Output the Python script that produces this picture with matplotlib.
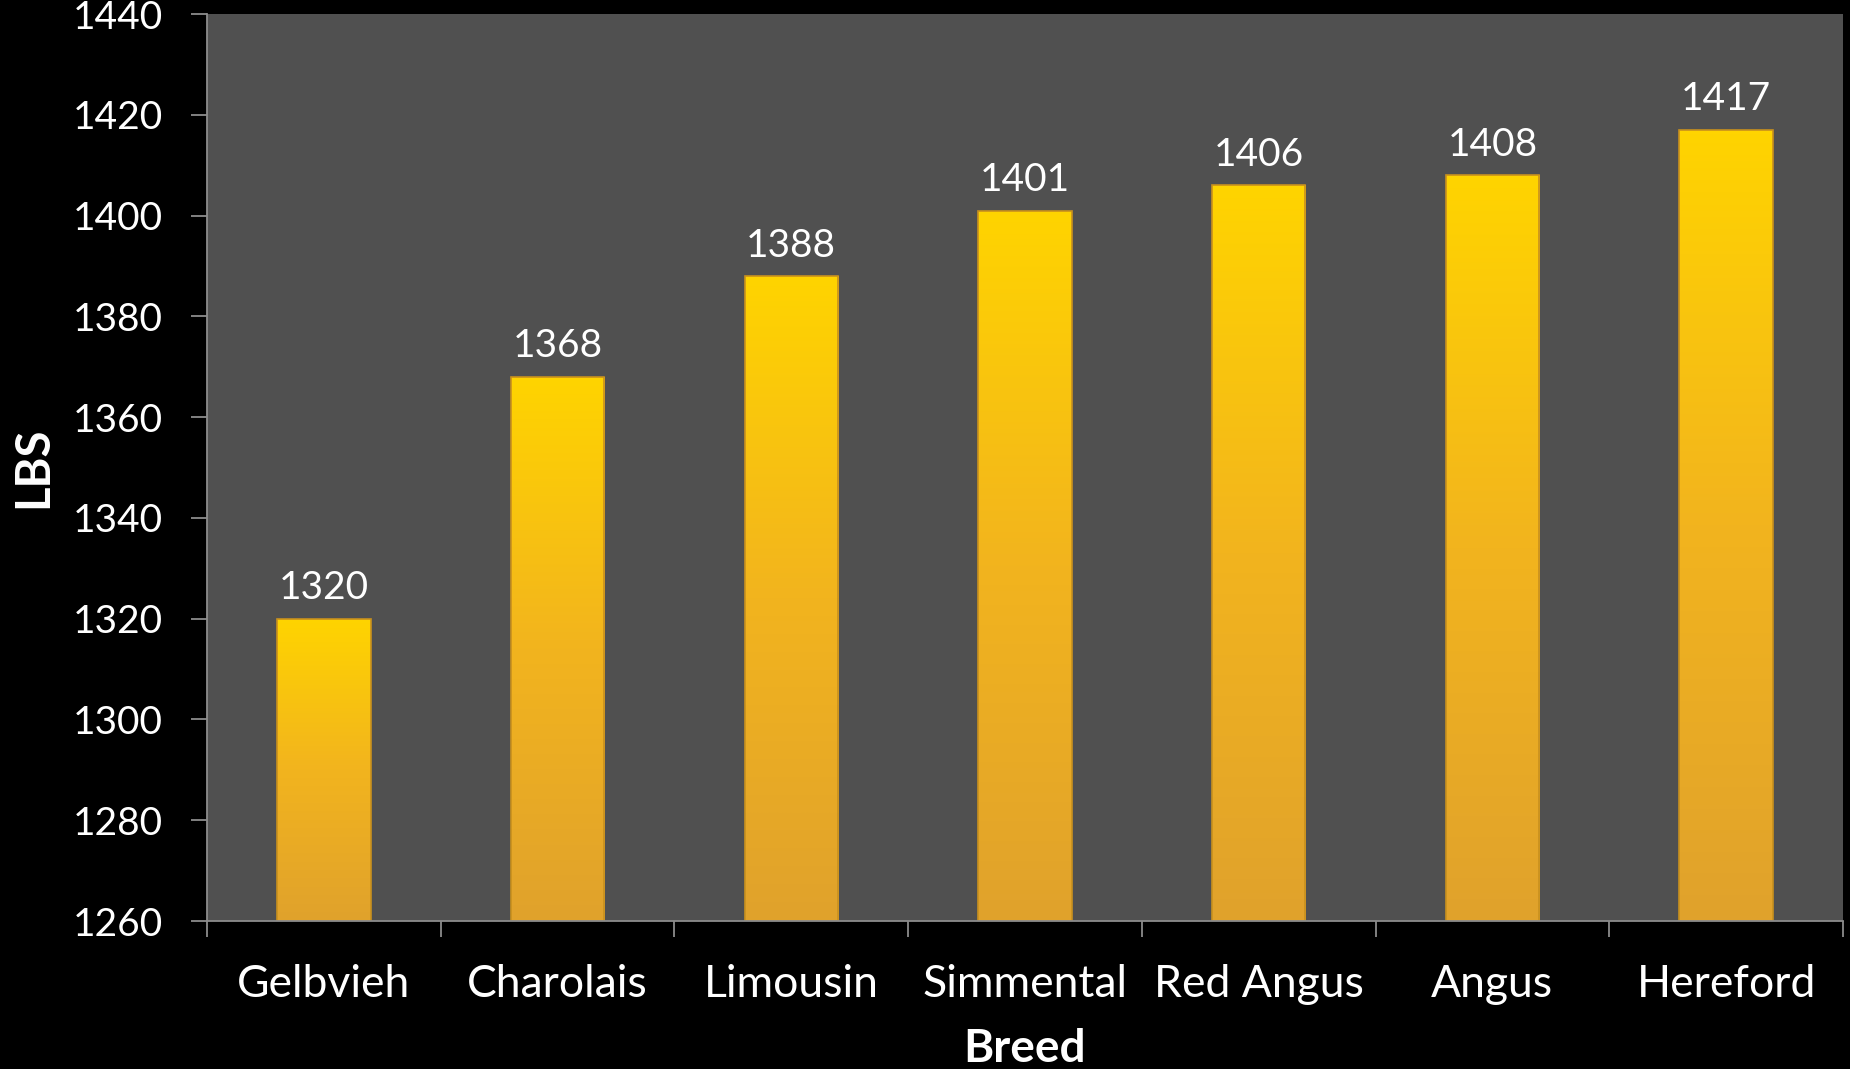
import numpy as np
import matplotlib
matplotlib.use("Agg")
import matplotlib.pyplot as plt
from matplotlib.colors import LinearSegmentedColormap

breeds = ["Gelbvieh", "Charolais", "Limousin", "Simmental", "Red Angus", "Angus", "Hereford"]
weights = [1320, 1368, 1388, 1401, 1406, 1408, 1417]
y_ticks = [1260, 1280, 1300, 1320, 1340, 1360, 1380, 1400, 1420, 1440]

plt.rcParams["font.family"] = ["Lato", "DejaVu Sans"]

fig = plt.figure(figsize=(18.5, 10.69), dpi=100, facecolor="black")
ax = fig.add_axes([0.1119, 0.1384, 0.8843, 0.8485])
ax.set_facecolor("#505050")

x = np.arange(len(breeds))
width = 0.40
y0 = y_ticks[0]

ax.set_xlim(-0.5, len(breeds) - 0.5)
ax.set_ylim(y_ticks[0], y_ticks[-1])

# vertical gold gradient: bright yellow at the top, warm amber at the base
cmap = LinearSegmentedColormap.from_list("gold", ["#E0A22C", "#F2B41E", "#FFD400"])
grad = np.linspace(0, 1, 256).reshape(-1, 1)

bars = ax.bar(x, [w - y0 for w in weights], width=width, bottom=y0,
              facecolor="none", edgecolor="#C8901E", linewidth=1.2, zorder=3)
for rect, w in zip(bars, weights):
    x0 = rect.get_x()
    im = ax.imshow(grad, cmap=cmap, origin="lower", aspect="auto",
                   extent=(x0, x0 + rect.get_width(), y0, w), zorder=2,
                   interpolation="bicubic")
    im.set_clip_path(rect)
    ax.annotate(f"{w}", xy=(rect.get_x() + rect.get_width() / 2, w),
                xytext=(0, 14), textcoords="offset points",
                ha="center", va="baseline", color="white", fontsize=28)

for s in ["top", "right"]:
    ax.spines[s].set_visible(False)
for s in ["left", "bottom"]:
    ax.spines[s].set_color("#8C8C8C")
    ax.spines[s].set_linewidth(1.3)
    ax.spines[s].set_zorder(4)

ax.set_yticks(y_ticks)
ax.set_yticklabels([str(t) for t in y_ticks])
ax.tick_params(axis="y", colors="#8C8C8C", labelcolor="white", length=11.5,
               width=1.3, pad=20, labelsize=28)

ax.set_xticks(x)
ax.set_xticklabels(breeds)
ax.set_xticks(np.arange(len(breeds) + 1) - 0.5, minor=True)
ax.tick_params(axis="x", which="major", length=0, pad=31, labelcolor="white",
               labelsize=32)
ax.tick_params(axis="x", which="minor", length=11.5, width=1.3, colors="#8C8C8C")

ax.set_xlabel("Breed", color="white", fontsize=33, fontweight="bold")
ax.xaxis.set_label_coords(0.5, -0.118)
ax.xaxis.label.set_va("top")
ax.set_ylabel("LBS", color="white", fontsize=34, fontweight="bold")
ax.yaxis.set_label_coords(-0.106, 0.5)
ax.yaxis.label.set_va("center")

fig.savefig("out.png", dpi=100, facecolor="black")
